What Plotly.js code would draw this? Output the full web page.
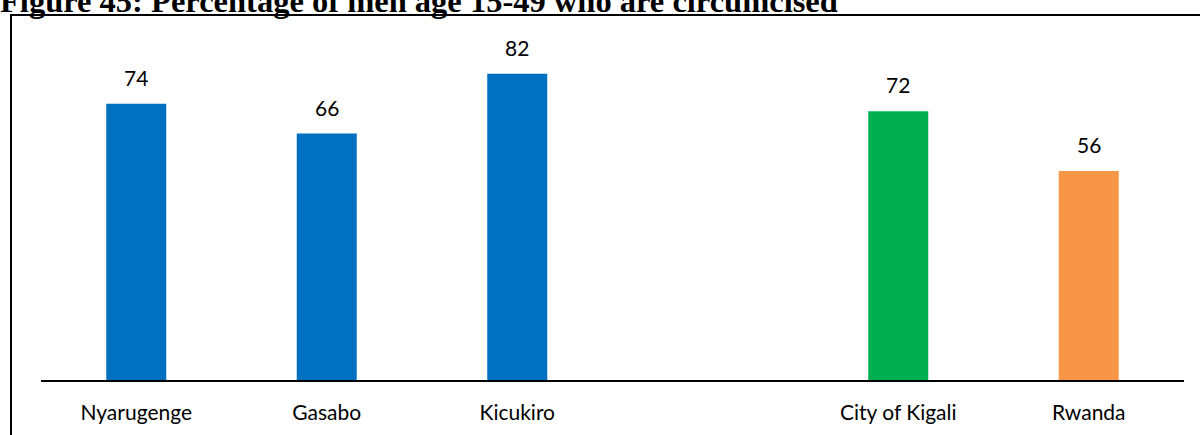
<!DOCTYPE html>
<html>
<head>
<meta charset="utf-8">
<script src="https://cdn.plot.ly/plotly-3.0.1.min.js"></script>
<style>html,body{margin:0;padding:0;background:#fff;}#chart{width:1200px;height:435px;}</style>
</head>
<body>
<div id="chart"></div>
<script>
const categories = ["Nyarugenge", "Gasabo", "Kicukiro", " ", "City of Kigali", "Rwanda"];
const values = [74, 66, 82, null, 72, 56];
const barColors = ["#0070C0", "#0070C0", "#0070C0", "#0070C0", "#00B050", "#F79646"];
const titleText = "Figure 45: Percentage of men age 15-49 who are circumcised";

const labelFont = {family: "Lato, 'Liberation Sans', sans-serif", size: 21, color: "#000"};

const annotations = categories.map((c, i) => values[i] == null ? null : ({
  x: c, y: values[i], xref: "x", yref: "y",
  text: String(values[i]), showarrow: false,
  yanchor: "bottom", yshift: 12, font: labelFont
})).filter(a => a);

const L = 41, R = 16, T = 44, B = 55, W = 1200, H = 435;
const pw = W - L - R, ph = H - T - B;
const px = v => (v - L) / pw;
const py = v => (H - B - v) / ph;

const shapes = [{
  type: "path", xref: "paper", yref: "paper",
  path: `M ${px(11)} ${py(460)} L ${px(11)} ${py(15)} L ${px(1210)} ${py(15)}`,
  line: {color: "#000", width: 2}
}];

Plotly.newPlot("chart", [{
  type: "bar", x: categories, y: values,
  marker: {color: barColors},
  width: 60 / (pw / categories.length),
  hoverinfo: "none"
}], {
  width: W, height: H,
  margin: {l: L, r: R, t: T, b: B, pad: 0},
  paper_bgcolor: "#fff", plot_bgcolor: "#fff",
  showlegend: false,
  title: {
    text: "<b>" + titleText + "</b>",
    font: {family: "'Liberation Serif', 'Times New Roman', serif", size: 32.5, color: "#000"},
    x: 0.0, xanchor: "left", xref: "container",
    y: 1 - 12 / H, yanchor: "bottom", yref: "container"
  },
  xaxis: {
    type: "category", showline: true, linecolor: "#000", linewidth: 2,
    showgrid: false, zeroline: false, ticks: "",
    tickfont: labelFont, ticklabelstandoff: 13, fixedrange: true
  },
  yaxis: {range: [0, 90], visible: false, showgrid: false, zeroline: false, fixedrange: true},
  annotations: annotations,
  shapes: shapes
}, {displayModeBar: false, staticPlot: true});
</script>
</body>
</html>
